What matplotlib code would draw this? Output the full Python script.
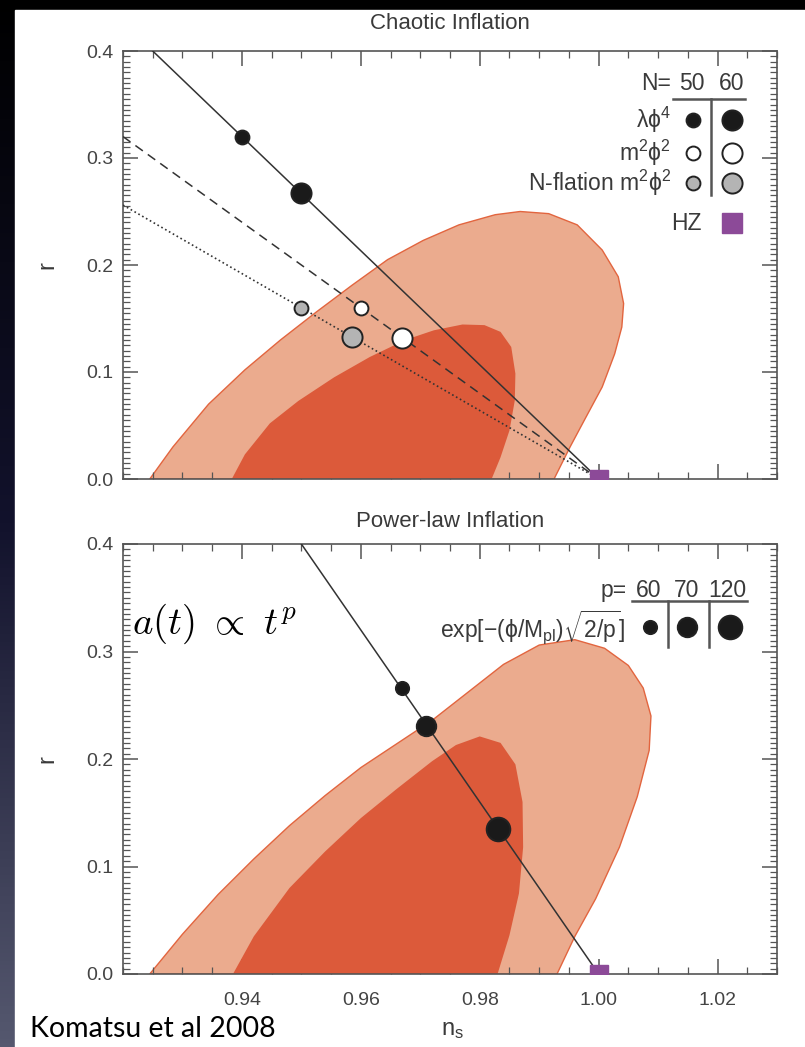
import numpy as np
import matplotlib.pyplot as plt
from matplotlib.patches import Polygon, Rectangle
from matplotlib.ticker import MultipleLocator, FixedLocator
from matplotlib.colors import LinearSegmentedColormap

plt.rcParams['font.family'] = ['Liberation Sans', 'DejaVu Sans']
plt.rcParams['mathtext.fontset'] = 'custom'
plt.rcParams['mathtext.rm'] = 'Liberation Sans'
plt.rcParams['mathtext.it'] = 'Liberation Sans:italic'
plt.rcParams['mathtext.sf'] = 'Liberation Sans'

# 68% / 95% contours in the (n_s, r) plane
outer_ns_top = [0.9245, 0.9284, 0.9344, 0.9405, 0.9465, 0.9525, 0.9585, 0.9645, 0.9705, 0.9765,
                0.9826, 0.9868, 0.9916, 0.9964, 1.0006, 1.0033, 1.0042, 1.0039, 1.0027, 1.0006,
                0.9976, 0.9952, 0.9925]
outer_r_top = [0.0, 0.030, 0.070, 0.102, 0.130, 0.156, 0.181, 0.205, 0.223, 0.2375,
               0.247, 0.250, 0.248, 0.2375, 0.214, 0.189, 0.164, 0.142, 0.117, 0.086,
               0.055, 0.030, 0.0]
inner_ns_top = [0.9383, 0.9405, 0.9447, 0.9495, 0.9555, 0.9615, 0.9675, 0.9723, 0.9771, 0.9808,
                0.9835, 0.9853, 0.9860, 0.9859, 0.9850, 0.9835, 0.9820]
inner_r_top = [0.0, 0.023, 0.052, 0.073, 0.095, 0.114, 0.130, 0.139, 0.1444, 0.1438,
               0.1375, 0.1234, 0.0984, 0.0734, 0.0453, 0.0203, 0.0]

outer_ns_bot = [0.9245, 0.930, 0.936, 0.942, 0.948, 0.954, 0.960, 0.966, 0.972, 0.978,
                0.984, 0.990, 0.996, 1.001, 1.005, 1.0075, 1.0088, 1.0085, 1.0065, 1.0035,
                0.9995, 0.996, 0.993]
outer_r_bot = [0.0, 0.037, 0.074, 0.107, 0.138, 0.166, 0.192, 0.214, 0.236, 0.262,
               0.288, 0.306, 0.311, 0.303, 0.287, 0.266, 0.240, 0.208, 0.165, 0.118,
               0.070, 0.035, 0.0]
inner_ns_bot = [0.9385, 0.942, 0.948, 0.954, 0.960, 0.966, 0.972, 0.976, 0.980, 0.9835,
                0.986, 0.9872, 0.9873, 0.9866, 0.985, 0.983]
inner_r_bot = [0.0, 0.035, 0.080, 0.114, 0.145, 0.172, 0.198, 0.213, 0.221, 0.215,
               0.195, 0.160, 0.118, 0.075, 0.036, 0.0]

# chaotic inflation trajectories and N = 50, 60 predictions
phi4_line_ns, phi4_line_r = [0.925, 1.0], [0.4, 0.0]
phi4_ns, phi4_r = [0.940, 0.950], [0.320, 0.267]
m2_line_ns, m2_line_r = [0.92, 1.0], [0.32, 0.0]
m2_ns, m2_r = [0.960, 0.967], [0.160, 0.132]
nfl_line_ns, nfl_line_r = [0.92, 1.0], [0.256, 0.0]
nfl_ns, nfl_r = [0.950, 0.9585], [0.160, 0.133]
hz_ns, hz_r = [1.0], [0.0]

# power-law inflation, p = 60, 70, 120
pl_line_ns, pl_line_r = [0.950, 1.0], [0.4, 0.0]
pl_p = ['60', '70', '120']
pl_ns = [0.967, 0.971, 0.983]
pl_r = [0.266, 0.231, 0.135]

N_labels = ['50', '60']
xtick_vals = [0.94, 0.96, 0.98, 1.00, 1.02]

light = '#ebab8e'
dark = '#dc5a3a'
edge = '#e2653f'
purple = '#8c4a98'
txt = '#3a3a3a'
spine = '#555555'
fs_leg = 16.5

fig = plt.figure(figsize=(8.05, 10.47), dpi=100)

# slide background: dark strip on the left and top
bg = fig.add_axes([0, 0, 1, 1], zorder=-10)
grad = np.linspace(0, 1, 256)[:, None]
bg.imshow(grad, cmap=LinearSegmentedColormap.from_list(
    'slide', ['#000000', '#12122c', '#55586f']), aspect='auto', extent=[0, 1, 0, 1])
bg.add_patch(Rectangle((15 / 805, 0), 1, 1 - 10 / 1047, color='white'))
bg.set_xlim(0, 1)
bg.set_ylim(0, 1)
bg.axis('off')

ax1 = fig.add_axes([123 / 805, 568 / 1047, 654 / 805, 428 / 1047])
ax2 = fig.add_axes([123 / 805, 73 / 1047, 654 / 805, 430 / 1047])


def style(ax, title, tpad):
    ax.set_xlim(0.92, 1.03)
    ax.set_ylim(0.0, 0.4)
    ax.xaxis.set_major_locator(FixedLocator(xtick_vals))
    ax.xaxis.set_minor_locator(MultipleLocator(0.005))
    ax.yaxis.set_major_locator(MultipleLocator(0.1))
    ax.yaxis.set_minor_locator(MultipleLocator(0.005))
    ax.tick_params(which='both', direction='in', top=True, right=True,
                   color=spine, labelcolor='#444444', labelsize=14)
    ax.tick_params(which='major', length=11, width=1.1, pad=7)
    ax.tick_params(axis='x', which='major', pad=13)
    ax.tick_params(which='minor', length=5, width=0.9)
    ax.yaxis.set_major_formatter(plt.FuncFormatter(lambda v, p: f'{v:.1f}'))
    ax.xaxis.set_major_formatter(plt.FuncFormatter(lambda v, p: f'{v:.2f}'))
    for s in ax.spines.values():
        s.set_color(spine)
        s.set_linewidth(1.2)
    ax.set_ylabel('r', fontsize=17, color=txt, labelpad=20)
    ax.set_title(title, fontsize=16, color=txt, pad=tpad)


def contours(ax, ons, orr, ins, irr):
    ax.add_patch(Polygon(np.column_stack([ons, orr]), closed=True,
                         facecolor=light, edgecolor=edge, lw=1.0, zorder=1))
    ax.add_patch(Polygon(np.column_stack([ins, irr]), closed=True,
                         facecolor=dark, edgecolor='none', zorder=2))


def dot(ax, x, y, size, fc, **kw):
    ax.plot(x, y, 'o', ms=size, mfc=fc, mec='#222222', mew=1.4, zorder=6, **kw)


# --- Chaotic inflation ---
style(ax1, 'Chaotic Inflation', 16)
ax1.tick_params(labelbottom=False)
contours(ax1, outer_ns_top, outer_r_top, inner_ns_top, inner_r_top)
ax1.plot(phi4_line_ns, phi4_line_r, '-', color='#333333', lw=1.1, zorder=4)
ax1.plot(m2_line_ns, m2_line_r, '--', color='#333333', lw=1.1, dashes=(6, 4), zorder=4)
ax1.plot(nfl_line_ns, nfl_line_r, ':', color='#333333', lw=1.2, zorder=4)
sizes = [10, 14.5]
for i in range(2):
    dot(ax1, phi4_ns[i], phi4_r[i], sizes[i], '#1a1a1a')
    dot(ax1, m2_ns[i], m2_r[i], sizes[i], 'white')
    dot(ax1, nfl_ns[i], nfl_r[i], sizes[i], '#b4b4b4')
ax1.plot(hz_ns, hz_r, 's', ms=13.5, color=purple, zorder=7)

# legend block
T = ax1.transAxes
ax1.text(0.838, 0.925, 'N=', transform=T, ha='right', va='center', fontsize=fs_leg, color=txt)
for xl, lab in zip([0.870, 0.931], N_labels):
    ax1.text(xl, 0.925, lab, transform=T, ha='center', va='center', fontsize=fs_leg, color=txt)
ax1.plot([0.841, 0.951], [0.888, 0.888], transform=T, color='#555555', lw=1.8, clip_on=False)
ax1.plot([0.899, 0.899], [0.888, 0.664], transform=T, color='#555555', lw=1.8, clip_on=False)
rows = [(0.839, 'λϕ$^4$', '#1a1a1a'), (0.762, 'm$^2$ϕ$^2$', 'white'),
        (0.692, 'N-flation m$^2$ϕ$^2$', '#b4b4b4')]
for yl, lab, fc in rows:
    ax1.text(0.838, yl, lab, transform=T, ha='right', va='center', fontsize=fs_leg, color=txt)
    dot(ax1, 0.8716, yl, 10, fc, transform=T, clip_on=False)
    dot(ax1, 0.931, yl, 14.5, fc, transform=T, clip_on=False)
ax1.text(0.885, 0.598, 'HZ', transform=T, ha='right', va='center', fontsize=fs_leg, color=txt)
ax1.plot(0.931, 0.598, 's', ms=14, color=purple, transform=T, clip_on=False)

# --- Power-law inflation ---
style(ax2, 'Power-law Inflation', 12)
contours(ax2, outer_ns_bot, outer_r_bot, inner_ns_bot, inner_r_bot)
ax2.plot(pl_line_ns, pl_line_r, '-', color='#333333', lw=1.1, zorder=4)
pl_sizes = [9.5, 14, 17]
for x, y, s in zip(pl_ns, pl_r, pl_sizes):
    dot(ax2, x, y, s, '#1a1a1a')
ax2.plot(hz_ns, hz_r, 's', ms=13.5, color=purple, zorder=7)

T = ax2.transAxes
ax2.text(0.770, 0.893, 'p=', transform=T, ha='right', va='center', fontsize=fs_leg, color=txt)
for xl, lab in zip([0.803, 0.862, 0.9235], pl_p):
    ax2.text(xl, 0.893, lab, transform=T, ha='center', va='center', fontsize=fs_leg, color=txt)
ax2.plot([0.778, 0.954], [0.867, 0.867], transform=T, color='#555555', lw=1.8, clip_on=False)
for xv in [0.833, 0.896]:
    ax2.plot([xv, xv], [0.867, 0.760], transform=T, color='#555555', lw=1.8, clip_on=False)
ax2.text(0.768, 0.807, r'exp[$-$(ϕ/M$_\mathrm{pl}$)$\sqrt{\mathrm{2/p}}$]', transform=T,
         ha='right', va='center', fontsize=fs_leg, color=txt)
for xl, s in zip([0.806, 0.862, 0.928], pl_sizes):
    dot(ax2, xl, 0.807, s, '#1a1a1a', transform=T, clip_on=False)

ax2.text(0.013, 0.815, r'$a(t)\ \propto\ t^p$', transform=T, ha='left', va='center',
         fontsize=28, color='black', math_fontfamily='cm')

fig.text(452 / 805, 1 - 1030 / 1047, r'n$_\mathrm{s}$', ha='center', va='center',
         fontsize=17, color=txt)
fig.text(30 / 805, 1 - 1029 / 1047, 'Komatsu et al 2008', ha='left', va='center',
         fontsize=20.5, color='black', family=['Lato', 'DejaVu Sans'])

fig.savefig('out.png', dpi=100)
